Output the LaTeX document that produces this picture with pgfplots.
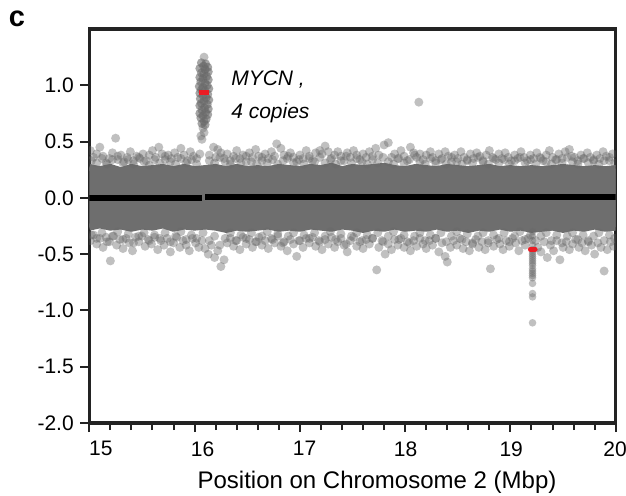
\documentclass[border=0pt]{standalone}
\usepackage{pgfplots}
\pgfplotsset{compat=1.18}
\usepackage{fontspec}
\setmainfont{Liberation Sans}
\definecolor{bandgray}{RGB}{110,110,110}
\definecolor{ptgray}{RGB}{105,105,105}
\definecolor{axgray}{RGB}{35,35,35}
\definecolor{segred}{RGB}{236,28,36}
\pgfplotstableread{
x y
15.01 0.42
15.04 0.36
15.07 0.39
15.10 0.45
15.13 0.37
15.16 0.31
15.19 0.35
15.22 0.40
15.25 0.53
15.27 0.34
15.30 0.38
15.33 0.32
15.36 0.36
15.39 0.41
15.42 0.33
15.45 0.37
15.48 0.35
15.51 0.39
15.54 0.33
15.57 0.38
15.60 0.42
15.63 0.36
15.66 0.45
15.69 0.39
15.72 0.34
15.75 0.38
15.78 0.35
15.81 0.40
15.84 0.36
15.87 0.44
15.90 0.38
15.93 0.33
15.96 0.41
15.99 0.37
16.02 0.35
16.05 0.39
16.14 0.38
16.18 0.45
16.20 0.36
16.22 0.43
16.25 0.40
16.28 0.35
16.31 0.39
16.34 0.33
16.37 0.37
16.40 0.42
16.43 0.35
16.46 0.38
16.49 0.32
16.52 0.40
16.55 0.36
16.58 0.43
16.61 0.37
16.64 0.33
16.67 0.39
16.70 0.35
16.73 0.41
16.76 0.37
16.78 0.48
16.82 0.44
16.85 0.38
16.88 0.35
16.91 0.40
16.94 0.36
16.97 0.32
17.00 0.38
17.03 0.35
17.06 0.42
17.09 0.37
17.12 0.33
17.15 0.40
17.19 0.42
17.21 0.39
17.24 0.46
17.27 0.41
17.30 0.35
17.33 0.38
17.36 0.41
17.39 0.37
17.42 0.33
17.45 0.40
17.48 0.36
17.51 0.42
17.54 0.38
17.57 0.34
17.60 0.39
17.63 0.36
17.66 0.41
17.69 0.37
17.72 0.44
17.75 0.38
17.80 0.47
17.84 0.49
17.87 0.36
17.90 0.39
17.93 0.35
17.96 0.42
17.99 0.37
18.02 0.33
18.05 0.45
18.08 0.40
18.11 0.36
18.13 0.85
18.14 0.39
18.17 0.34
18.20 0.38
18.24 0.41
18.26 0.36
18.29 0.33
18.32 0.39
18.35 0.35
18.38 0.41
18.41 0.37
18.44 0.32
18.47 0.38
18.50 0.35
18.53 0.41
18.56 0.36
18.59 0.33
18.62 0.39
18.65 0.35
18.68 0.40
18.71 0.37
18.74 0.33
18.77 0.38
18.80 0.42
18.83 0.36
18.86 0.34
18.89 0.39
18.92 0.35
18.95 0.40
18.98 0.36
19.01 0.33
19.04 0.38
19.07 0.35
19.10 0.41
19.13 0.36
19.16 0.33
19.19 0.38
19.22 0.35
19.25 0.40
19.28 0.36
19.31 0.33
19.34 0.38
19.37 0.42
19.40 0.36
19.43 0.34
19.46 0.39
19.49 0.35
19.52 0.41
19.56 0.43
19.58 0.37
19.61 0.36
19.64 0.33
19.67 0.38
19.70 0.35
19.73 0.40
19.76 0.36
19.79 0.33
19.82 0.38
19.85 0.35
19.88 0.41
19.91 0.37
19.94 0.33
19.97 0.39
}\upperrim
\pgfplotstableread{
x y
15.02 0.33
15.07 0.31
15.12 0.35
15.17 0.30
15.22 0.34
15.27 0.37
15.32 0.31
15.37 0.34
15.42 0.30
15.47 0.36
15.52 0.32
15.57 0.29
15.62 0.34
15.67 0.31
15.72 0.37
15.77 0.32
15.82 0.30
15.87 0.35
15.92 0.31
15.97 0.34
16.02 0.30
16.14 0.33
16.19 0.31
16.24 0.36
16.29 0.32
16.34 0.30
16.39 0.35
16.44 0.31
16.49 0.37
16.54 0.32
16.59 0.30
16.64 0.36
16.69 0.31
16.74 0.34
16.79 0.30
16.84 0.33
16.89 0.37
16.94 0.31
16.99 0.34
17.04 0.30
17.09 0.35
17.14 0.32
17.19 0.36
17.24 0.31
17.29 0.34
17.34 0.30
17.39 0.33
17.44 0.37
17.49 0.31
17.54 0.35
17.59 0.32
17.64 0.30
17.69 0.34
17.74 0.31
17.79 0.36
17.84 0.32
17.89 0.30
17.94 0.35
17.99 0.31
18.04 0.34
18.09 0.38
18.14 0.32
18.19 0.30
18.24 0.35
18.29 0.31
18.34 0.34
18.39 0.30
18.44 0.36
18.49 0.32
18.54 0.30
18.59 0.34
18.64 0.31
18.69 0.36
18.74 0.32
18.79 0.30
18.84 0.35
18.89 0.31
18.94 0.34
18.99 0.30
19.04 0.33
19.09 0.36
19.14 0.31
19.19 0.34
19.24 0.30
19.29 0.35
19.34 0.32
19.39 0.30
19.44 0.34
19.49 0.31
19.54 0.36
19.59 0.32
19.64 0.30
19.69 0.35
19.74 0.31
19.79 0.34
19.84 0.30
19.89 0.33
19.94 0.36
19.99 0.31
}\upperrimb
\pgfplotstableread{
x y
15.01 -0.38
15.04 -0.33
15.07 -0.41
15.10 -0.36
15.13 -0.44
15.16 -0.35
15.19 -0.39
15.20 -0.56
15.23 -0.34
15.26 -0.42
15.29 -0.37
15.32 -0.45
15.35 -0.36
15.38 -0.40
15.41 -0.47
15.44 -0.35
15.47 -0.39
15.50 -0.34
15.53 -0.43
15.56 -0.37
15.59 -0.41
15.62 -0.35
15.65 -0.46
15.68 -0.38
15.71 -0.42
15.74 -0.36
15.77 -0.48
15.80 -0.40
15.83 -0.35
15.86 -0.44
15.89 -0.38
15.92 -0.42
15.95 -0.47
15.98 -0.36
16.01 -0.40
16.04 -0.44
16.07 -0.38
16.10 -0.45
16.13 -0.50
16.16 -0.42
16.19 -0.53
16.22 -0.47
16.25 -0.61
16.28 -0.55
16.31 -0.40
16.34 -0.36
16.37 -0.43
16.40 -0.38
16.43 -0.46
16.46 -0.35
16.49 -0.41
16.52 -0.37
16.55 -0.44
16.58 -0.39
16.61 -0.35
16.64 -0.42
16.67 -0.38
16.70 -0.45
16.73 -0.36
16.76 -0.40
16.79 -0.34
16.82 -0.43
16.85 -0.39
16.88 -0.47
16.91 -0.37
16.94 -0.41
16.97 -0.52
17.00 -0.38
17.03 -0.44
17.06 -0.36
17.09 -0.40
17.12 -0.35
17.15 -0.43
17.18 -0.38
17.21 -0.46
17.24 -0.37
17.27 -0.41
17.30 -0.35
17.33 -0.44
17.36 -0.39
17.39 -0.36
17.42 -0.42
17.45 -0.48
17.48 -0.38
17.51 -0.35
17.54 -0.43
17.57 -0.39
17.60 -0.45
17.63 -0.37
17.66 -0.41
17.69 -0.36
17.73 -0.64
17.75 -0.44
17.78 -0.38
17.81 -0.50
17.84 -0.41
17.87 -0.46
17.90 -0.37
17.93 -0.42
17.96 -0.36
17.99 -0.44
18.02 -0.39
18.05 -0.47
18.08 -0.38
18.11 -0.43
18.14 -0.36
18.17 -0.41
18.20 -0.45
18.23 -0.38
18.26 -0.42
18.29 -0.36
18.32 -0.48
18.35 -0.40
18.38 -0.52
18.40 -0.57
18.43 -0.44
18.46 -0.38
18.49 -0.42
18.52 -0.36
18.55 -0.45
18.58 -0.39
18.61 -0.47
18.64 -0.41
18.67 -0.37
18.70 -0.44
18.73 -0.39
18.76 -0.46
18.79 -0.40
18.81 -0.63
18.84 -0.43
18.87 -0.37
18.90 -0.41
18.93 -0.46
18.96 -0.38
18.99 -0.43
19.02 -0.36
19.05 -0.40
19.08 -0.47
19.11 -0.38
19.14 -0.42
19.17 -0.36
19.26 -0.44
19.29 -0.48
19.32 -0.39
19.35 -0.53
19.38 -0.42
19.41 -0.47
19.44 -0.38
19.47 -0.55
19.50 -0.44
19.53 -0.39
19.56 -0.46
19.59 -0.41
19.62 -0.37
19.65 -0.44
19.68 -0.40
19.71 -0.47
19.74 -0.38
19.77 -0.42
19.80 -0.50
19.83 -0.40
19.86 -0.44
19.89 -0.65
19.92 -0.46
19.95 -0.39
19.98 -0.43
}\lowerrim
\pgfplotstableread{
x y
15.02 -0.33
15.07 -0.36
15.12 -0.31
15.17 -0.39
15.22 -0.34
15.27 -0.30
15.32 -0.37
15.37 -0.32
15.42 -0.40
15.47 -0.34
15.52 -0.31
15.57 -0.38
15.62 -0.33
15.67 -0.36
15.72 -0.31
15.77 -0.39
15.82 -0.34
15.87 -0.30
15.92 -0.37
15.97 -0.33
16.02 -0.36
16.08 -0.31
16.14 -0.38
16.19 -0.34
16.24 -0.42
16.29 -0.36
16.34 -0.31
16.39 -0.38
16.44 -0.33
16.49 -0.36
16.54 -0.31
16.59 -0.39
16.64 -0.34
16.69 -0.30
16.74 -0.37
16.79 -0.32
16.84 -0.40
16.89 -0.34
16.94 -0.31
16.99 -0.38
17.04 -0.33
17.09 -0.36
17.14 -0.31
17.19 -0.39
17.24 -0.34
17.29 -0.30
17.34 -0.37
17.39 -0.32
17.44 -0.41
17.49 -0.34
17.54 -0.31
17.59 -0.38
17.64 -0.33
17.69 -0.36
17.74 -0.31
17.79 -0.39
17.84 -0.34
17.89 -0.30
17.94 -0.37
17.99 -0.33
18.04 -0.40
18.09 -0.34
18.14 -0.31
18.19 -0.38
18.24 -0.33
18.29 -0.36
18.34 -0.31
18.39 -0.39
18.44 -0.34
18.49 -0.30
18.54 -0.37
18.59 -0.32
18.64 -0.40
18.69 -0.34
18.74 -0.31
18.79 -0.38
18.84 -0.33
18.89 -0.36
18.94 -0.31
18.99 -0.39
19.04 -0.34
19.09 -0.30
19.14 -0.37
19.19 -0.33
19.24 -0.38
19.29 -0.34
19.34 -0.31
19.39 -0.38
19.44 -0.33
19.49 -0.40
19.54 -0.34
19.59 -0.31
19.64 -0.37
19.69 -0.33
19.74 -0.39
19.79 -0.34
19.84 -0.31
19.89 -0.38
19.94 -0.33
19.99 -0.36
}\lowerrimb
\pgfplotstableread{
x y
16.065 1.20
16.105 1.19
16.085 1.17
16.125 1.16
16.05 1.15
16.10 1.14
16.13 1.12
16.065 1.11
16.09 1.10
16.115 1.08
16.05 1.07
16.08 1.06
16.13 1.05
16.06 1.03
16.10 1.02
16.12 1.00
16.045 0.99
16.08 0.98
16.135 0.97
16.065 0.96
16.10 0.95
16.05 0.93
16.125 0.92
16.08 0.91
16.11 0.89
16.055 0.88
16.135 0.87
16.09 0.86
16.065 0.84
16.12 0.83
16.05 0.82
16.095 0.80
16.13 0.79
16.07 0.78
16.105 0.76
16.05 0.75
16.125 0.74
16.08 0.73
16.06 0.71
16.11 0.70
16.09 0.68
16.07 0.66
16.10 0.65
}\mycn
\pgfplotstableread{
x y
16.09 1.25
16.08 0.62
16.09 0.58
16.06 0.55
16.07 0.52
}\mycnlight
\pgfplotstableread{
x y
19.21 -0.30
19.21 -0.34
19.21 -0.38
19.21 -0.42
19.21 -0.46
19.21 -0.48
19.21 -0.50
19.21 -0.52
19.21 -0.54
19.21 -0.56
19.21 -0.58
19.21 -0.60
19.21 -0.63
19.21 -0.65
19.21 -0.67
19.21 -0.69
19.21 -0.71
19.21 -0.76
19.21 -0.85
19.21 -0.88
19.21 -1.11
}\deletion
\begin{document}
\begin{tikzpicture}[x=1pt,y=1pt]
\begin{axis}[
  at={(0,0)}, anchor=south west, scale only axis,
  width=526.4pt, height=394pt,
  xmin=15, xmax=20, ymin=-2, ymax=1.5,
  xtick={15,16,17,18,19,20},
  xticklabels={{\hspace*{23pt}15},{\hspace*{16pt}16},{\hspace*{9.4pt}17},{\hspace*{1pt}18},{\hspace*{1.6pt}19},{20\hspace*{1.4pt}}},
  xticklabel style={yshift=-6pt},
  minor x tick num=4,
  ytick={-2,-1.5,-1,-0.5,0,0.5,1},
  yticklabel style={xshift=-3pt, /pgf/number format/.cd, fixed, fixed zerofill, precision=1},
  /pgf/number format/assume math mode=true,
  xtick pos=bottom, ytick pos=left,
  tick align=outside,
  major tick length=9pt, minor tick length=7pt,
  axis line style={line width=3.2pt, color=axgray},
  every tick/.style={line width=2pt, color=axgray},
  tick label style={font=\fontsize{21}{21}\selectfont, color=black},
  clip=true, clip marker paths=true,
  pts/.style={only marks, color=ptgray, mark=*, mark size=4.5pt,
    mark options={draw opacity=0, fill=ptgray, fill opacity=0.42}},
]
% dense core of the band
\addplot [fill=bandgray, draw=bandgray, line width=7pt, line join=round] coordinates {
(15.0,0.27) (15.1,0.25) (15.2,0.27) (15.3,0.24) (15.4,0.27) (15.5,0.25) (15.6,0.26) (15.7,0.27) (15.8,0.25) (15.9,0.27) (16.0,0.25)
(16.1,0.26) (16.2,0.27) (16.3,0.25) (16.4,0.27) (16.5,0.25) (16.6,0.26) (16.7,0.25) (16.8,0.27) (16.9,0.26) (17.0,0.25) (17.1,0.27) (17.2,0.26) (17.3,0.28) (17.4,0.25) (17.5,0.27) (17.6,0.26) (17.7,0.27) (17.8,0.28) (17.9,0.26) (18.0,0.25) (18.1,0.27) (18.2,0.26) (18.3,0.25) (18.4,0.27) (18.5,0.26) (18.6,0.25) (18.7,0.26) (18.8,0.27) (18.9,0.25) (19.0,0.26) (19.1,0.25) (19.2,0.26) (19.3,0.25) (19.4,0.26) (19.5,0.27) (19.6,0.26) (19.7,0.25) (19.8,0.26) (19.9,0.25) (20.0,0.26)
(20.0,-0.26) (19.9,-0.27) (19.8,-0.25) (19.7,-0.27) (19.6,-0.26) (19.5,-0.28) (19.4,-0.26) (19.3,-0.27) (19.2,-0.28) (19.1,-0.26) (19.0,-0.27) (18.9,-0.25) (18.8,-0.27) (18.7,-0.26) (18.6,-0.28) (18.5,-0.26) (18.4,-0.27) (18.3,-0.25) (18.2,-0.27) (18.1,-0.26) (18.0,-0.27) (17.9,-0.25) (17.8,-0.27) (17.7,-0.26) (17.6,-0.28) (17.5,-0.26) (17.4,-0.25) (17.3,-0.27) (17.2,-0.26) (17.1,-0.25) (17.0,-0.27) (16.9,-0.26) (16.8,-0.27) (16.7,-0.25) (16.6,-0.26) (16.5,-0.27) (16.4,-0.26) (16.3,-0.28) (16.2,-0.26) (16.1,-0.25)
(16.0,-0.26) (15.9,-0.25) (15.8,-0.27) (15.7,-0.24) (15.6,-0.26) (15.5,-0.25) (15.4,-0.27) (15.3,-0.25) (15.2,-0.26) (15.1,-0.24) (15.0,-0.26)
};
% scattered points
\addplot [pts] table [x=x, y=y] {\upperrimb};
\addplot [pts] table [x=x, y=y] {\upperrim};
\addplot [pts] table [x=x, y=y] {\lowerrimb};
\addplot [pts] table [x=x, y=y] {\lowerrim};
\addplot [pts] table [x=x, y=y] {\mycnlight};
\addplot [pts, mark options={draw opacity=0, fill=ptgray, fill opacity=0.6}] table [x=x, y=y] {\mycn};
\addplot [pts, mark size=3.8pt] table [x=x, y=y] {\deletion};
% segment means
\addplot [black, line width=6pt] coordinates {(15,-0.005) (16.07,-0.005)};
\addplot [black, line width=6pt] coordinates {(16.10,0.008) (20,0.008)};
\addplot [segred, line width=4.5pt] coordinates {(16.045,0.935) (16.135,0.935)};
\addplot [segred, line width=5pt, line cap=round] coordinates {(19.19,-0.455) (19.235,-0.455)};
\node [anchor=base west, font=\fontsize{21}{21}\selectfont\itshape] at (axis cs:16.315,1.0) {MYCN ,};
\node [anchor=base west, font=\fontsize{21}{21}\selectfont\itshape] at (axis cs:16.315,0.703) {4 copies};
\end{axis}
\node [anchor=base, font=\fontsize{24}{24}\selectfont] at (287.7,-65) {Position on Chromosome 2 (Mbp)};
\node [anchor=base west, inner sep=0pt, font=\fontsize{29}{29}\selectfont\bfseries] at (-80.5,396.3) {c};
\pgfresetboundingbox
\path[use as bounding box] (-89.3,-72) rectangle (536.7,423);
\end{tikzpicture}
\end{document}
